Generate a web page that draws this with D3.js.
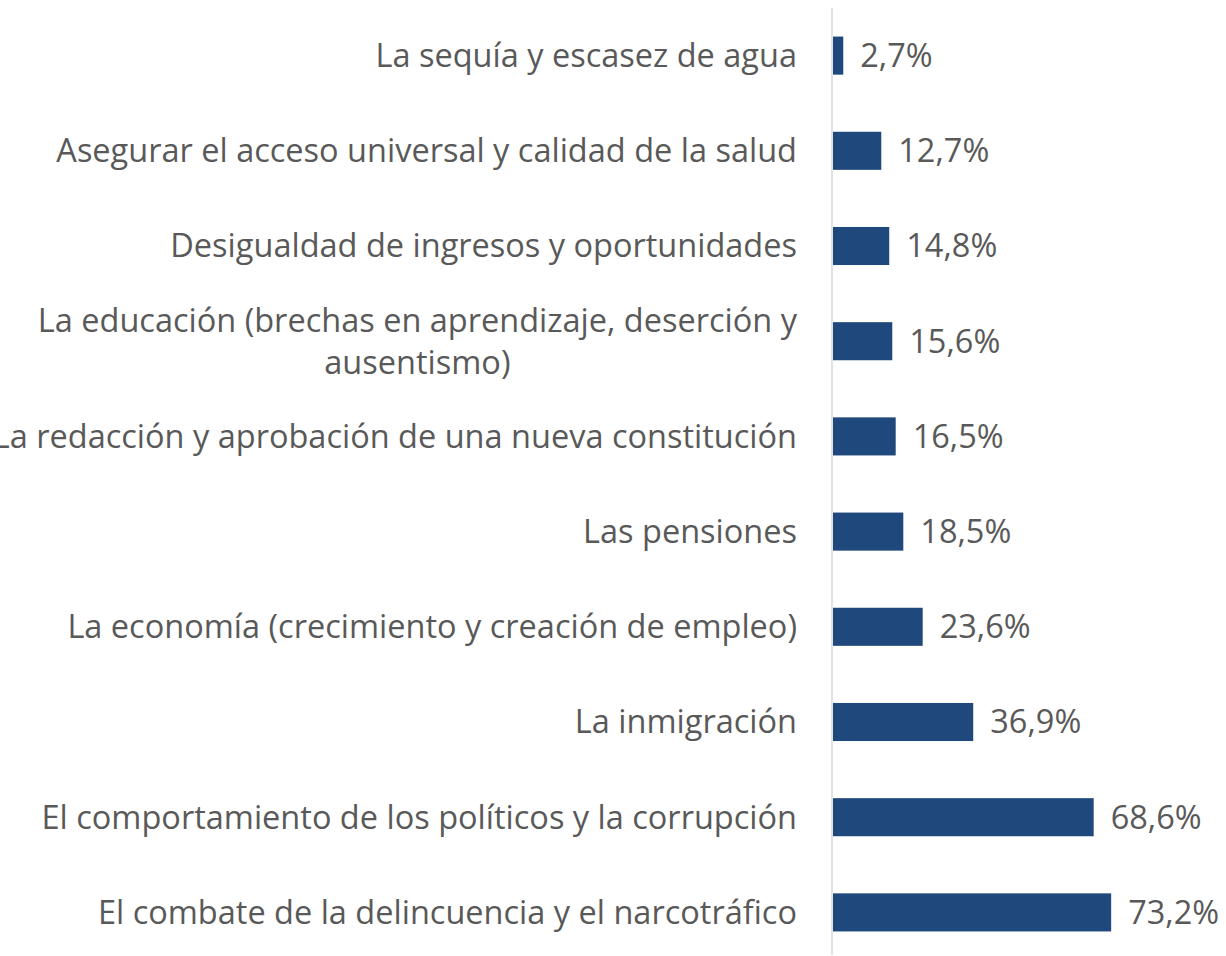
<!DOCTYPE html>
<html>
<head>
<meta charset="utf-8">
<script src="https://cdn.jsdelivr.net/npm/d3@7"></script>
<style>
	body { margin: 0; background: #fff; }
	text { font-family: "Open Sans", sans-serif; fill: #595959; }
</style>
</head>
<body>
<div class="container"></div>
<script>
var categories = [
	"La sequía y escasez de agua",
	"Asegurar el acceso universal y calidad de la salud",
	"Desigualdad de ingresos y oportunidades",
	"La educación (brechas en aprendizaje, deserción y|ausentismo)",
	"La redacción y aprobación de una nueva constitución",
	"Las pensiones",
	"La economía (crecimiento y creación de empleo)",
	"La inmigración",
	"El comportamiento de los políticos y la corrupción",
	"El combate de la delincuencia y el narcotráfico"
];
var values = [2.7, 12.7, 14.8, 15.6, 16.5, 18.5, 23.6, 36.9, 68.6, 73.2];

var barChart = function() {

	function init() {
		var width = 1226, height = 956;
		var axisX = 832;
		var fontSize = 32.5;

		var svg = d3.select('.container').append('svg')
			.attr('width', width)
			.attr('height', height);

		var data = categories.map(function(c, i) {
			return {label: c, value: values[i]};
		});

		var x = d3.scaleLinear().domain([0, 80]).range([axisX + 1, axisX + 1 + 304]);
		var y = d3.scaleBand()
			.domain(categories)
			.range([8, 960])
			.paddingInner(0.6)
			.paddingOuter(0.3);

		// vertical category axis line
		svg.append('line')
			.attr('x1', axisX).attr('x2', axisX)
			.attr('y1', 8).attr('y2', 955)
			.style('stroke', '#d9d9d9')
			.style('stroke-width', 1.5);

		var row = svg.selectAll('g.row').data(data).enter().append('g')
			.attr('class', 'row');

		row.append('rect')
			.attr('x', x(0))
			.attr('y', function(d) { return y(d.label); })
			.attr('width', function(d) { return x(d.value) - x(0); })
			.attr('height', y.bandwidth())
			.style('fill', '#1f497d');

		row.append('text')
			.attr('x', function(d) { return x(d.value) + 17; })
			.attr('y', function(d) { return y(d.label) + y.bandwidth() / 2; })
			.attr('dy', '0.35em')
			.style('font-size', fontSize + 'px')
			.text(function(d) { return d3.format('.1f')(d.value).replace('.', ',') + '%'; });

		// category labels, multi-line ones centered as a block
		row.each(function(d) {
			var lines = d.label.split('|');
			var cy = y(d.label) + y.bandwidth() / 2;
			var lh = 42;
			var t = d3.select(this).append('text')
				.style('font-size', fontSize + 'px');
			lines.forEach(function(l, k) {
				t.append('tspan')
					.attr('y', cy + (k - (lines.length - 1) / 2) * lh)
					.attr('dy', '0.35em')
					.text(l);
			});
			if (lines.length === 1) {
				t.attr('text-anchor', 'end');
				t.selectAll('tspan').attr('x', axisX - 35);
			} else {
				// center lines on the widest line, right-aligned block
				var w = 0;
				t.selectAll('tspan').each(function() { w = Math.max(w, this.getComputedTextLength()); });
				t.attr('text-anchor', 'middle');
				t.selectAll('tspan').attr('x', axisX - 35 - w / 2);
			}
		});
	}
	return Object.freeze({init: init});
};

var chart = barChart();
chart.init();
</script>
</body>
</html>
